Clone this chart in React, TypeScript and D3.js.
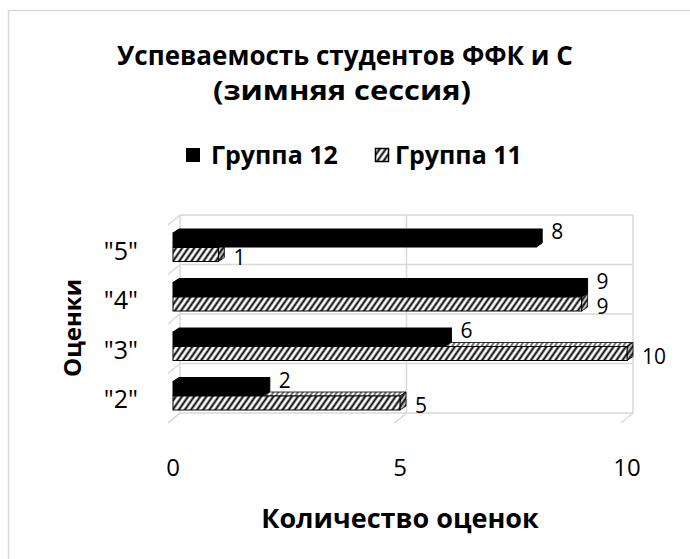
import React from "react";
import * as d3 from "d3";

const categories = ['"5"', '"4"', '"3"', '"2"'];
const group12 = [8, 9, 6, 2];
const group11 = [1, 9, 10, 5];
const xTicks = [0, 5, 10];
const seriesNames = ["Группа 12", "Группа 11"];

const FONT = "'Open Sans', 'Noto Sans', sans-serif";
const GRID = "#d9d9d9";

export default function App() {
  // back wall scales
  const xWall = d3.scaleLinear().domain([0, 10]).range([180, 633]);
  const y = d3.scaleBand().domain(categories).range([215, 413]);
  // bars' front plane sits a bit in front of the wall
  const xFront = d3.scaleLinear().domain([0, 10]).range([173, 627]);
  const sub = d3.scaleBand().domain(["g12", "g11"]).range([18, 47]);
  const dx = 6, dy = 4; // bar depth
  const fdx = -12, fdy = 10; // floor depth
  const bh = 14;

  const wallTop = y.range()[0];
  const wallBottom = y.range()[1];
  const bounds = categories.map((c) => y(c)!).concat([wallBottom]);

  const bar = (v: number, key: string, cat: string, hatched: boolean) => {
    const x0 = xFront(0);
    const x1 = xFront(v);
    const y0 = y(cat)! + sub(key)!;
    const top = `M${x0},${y0}L${x1},${y0}L${x1 + dx},${y0 - dy}L${x0 + dx},${y0 - dy}Z`;
    const side = `M${x1},${y0}L${x1 + dx},${y0 - dy}L${x1 + dx},${y0 + bh - dy}L${x1},${y0 + bh}Z`;
    if (hatched) {
      return (
        <g key={key + cat}>
          <path d={top} fill="url(#hatchGray)" stroke="#000" strokeWidth={0.8} />
          <path d={side} fill="url(#hatchDark)" stroke="#000" strokeWidth={0.8} />
          <rect x={x0} y={y0} width={x1 - x0} height={bh} fill="url(#hatch)" stroke="#000" strokeWidth={1} />
        </g>
      );
    }
    return (
      <g key={key + cat}>
        <path d={top} fill="#000" stroke="#000" strokeWidth={1} />
        <path d={side} fill="#000" stroke="#000" strokeWidth={1} />
        <rect x={x0} y={y0} width={x1 - x0} height={bh} fill="#000" stroke="#000" strokeWidth={1} />
      </g>
    );
  };

  return (
    <svg width={690} height={559} style={{ position: "absolute", left: 0, top: 0, background: "#fff" }}>
      <defs>
        <pattern id="hatch" width={5} height={5} patternUnits="userSpaceOnUse" patternTransform="rotate(35)">
          <rect width={5} height={5} fill="#fff" />
          <line x1={1.5} y1={0} x2={1.5} y2={5} stroke="#000" strokeWidth={2} />
        </pattern>
        <pattern id="hatchGray" width={4} height={4} patternUnits="userSpaceOnUse" patternTransform="rotate(35)">
          <rect width={4} height={4} fill="#fff" />
          <line x1={1} y1={0} x2={1} y2={4} stroke="#555" strokeWidth={1.6} />
        </pattern>
        <pattern id="hatchDark" width={4} height={4} patternUnits="userSpaceOnUse" patternTransform="rotate(35)">
          <rect width={4} height={4} fill="#bbb" />
          <line x1={1} y1={0} x2={1} y2={4} stroke="#222" strokeWidth={2} />
        </pattern>
      </defs>

      {/* chart border (cropped on right/bottom) */}
      <path d="M8.5,559V10.5H690" fill="none" stroke={GRID} strokeWidth={1.5} />

      {/* title */}
      <text x={345} y={65} textAnchor="middle" fontFamily={FONT} fontWeight="bold" fontSize={26} fill="#000">
        Успеваемость студентов ФФК и С
      </text>
      <text x={342} y={100} textAnchor="middle" fontFamily={FONT} fontWeight="bold" fontSize={27} fill="#000"
        textLength={258} lengthAdjust="spacingAndGlyphs">
        (зимняя сессия)
      </text>

      {/* legend */}
      <rect x={186} y={148} width={14} height={14} fill="#000" />
      <text x={211} y={164} fontFamily={FONT} fontWeight="bold" fontSize={25}>{seriesNames[0]}</text>
      <rect x={375.5} y={148.5} width={13} height={13} fill="url(#hatch)" stroke="#000" strokeWidth={1.5} />
      <text x={395} y={164} fontFamily={FONT} fontWeight="bold" fontSize={25}>{seriesNames[1]}</text>

      {/* back wall */}
      <g stroke={GRID} strokeWidth={1.5} fill="none">
        {bounds.map((b, i) => (
          <g key={"h" + i}>
            <line x1={xWall(0)} x2={xWall(10)} y1={b} y2={b} />
            <line x1={xWall(0)} x2={xWall(0) + fdx} y1={b} y2={b + fdy} />
          </g>
        ))}
        {xTicks.map((t) => (
          <g key={"v" + t}>
            <line x1={xWall(t)} x2={xWall(t)} y1={wallTop} y2={wallBottom} />
            <line x1={xWall(t)} x2={xWall(t) + fdx} y1={wallBottom} y2={wallBottom + fdy} />
          </g>
        ))}
      </g>

      {/* bars */}
      {categories.map((c, i) => (
        <g key={c}>
          {bar(group11[i], "g11", c, true)}
          {bar(group12[i], "g12", c, false)}
        </g>
      ))}

      {/* data labels */}
      <g fontFamily={FONT} fontSize={21} fill="#000">
        {categories.map((c, i) => (
          <g key={"l" + c}>
            <text x={xFront(group12[i]) + dx + 9} y={y(c)! + sub("g12")! + bh / 2 - 9} dominantBaseline="central">
              {group12[i]}
            </text>
            <text x={xFront(group11[i]) + dx + 9} y={y(c)! + sub("g11")! + bh / 2 + 2} dominantBaseline="central">
              {group11[i]}
            </text>
          </g>
        ))}
      </g>

      {/* category axis labels */}
      <g fontFamily={FONT} fontSize={25} fill="#000" textAnchor="end">
        {categories.map((c) => (
          <text key={"c" + c} x={138} y={y(c)! + y.bandwidth() / 2 + 10} dominantBaseline="central">
            {c}
          </text>
        ))}
      </g>

      {/* value axis tick labels */}
      <g fontFamily={FONT} fontSize={24} fill="#000" textAnchor="middle">
        {xTicks.map((t) => (
          <text key={"t" + t} x={xFront(t)} y={466} dominantBaseline="central">
            {t}
          </text>
        ))}
      </g>

      {/* axis titles */}
      <text x={400} y={528} textAnchor="middle" fontFamily={FONT} fontWeight="bold" fontSize={27}>
        Количество оценок
      </text>
      <text transform="translate(81,328) rotate(-90)" textAnchor="middle" fontFamily={FONT} fontWeight="bold" fontSize={24}>
        Оценки
      </text>
    </svg>
  );
}
